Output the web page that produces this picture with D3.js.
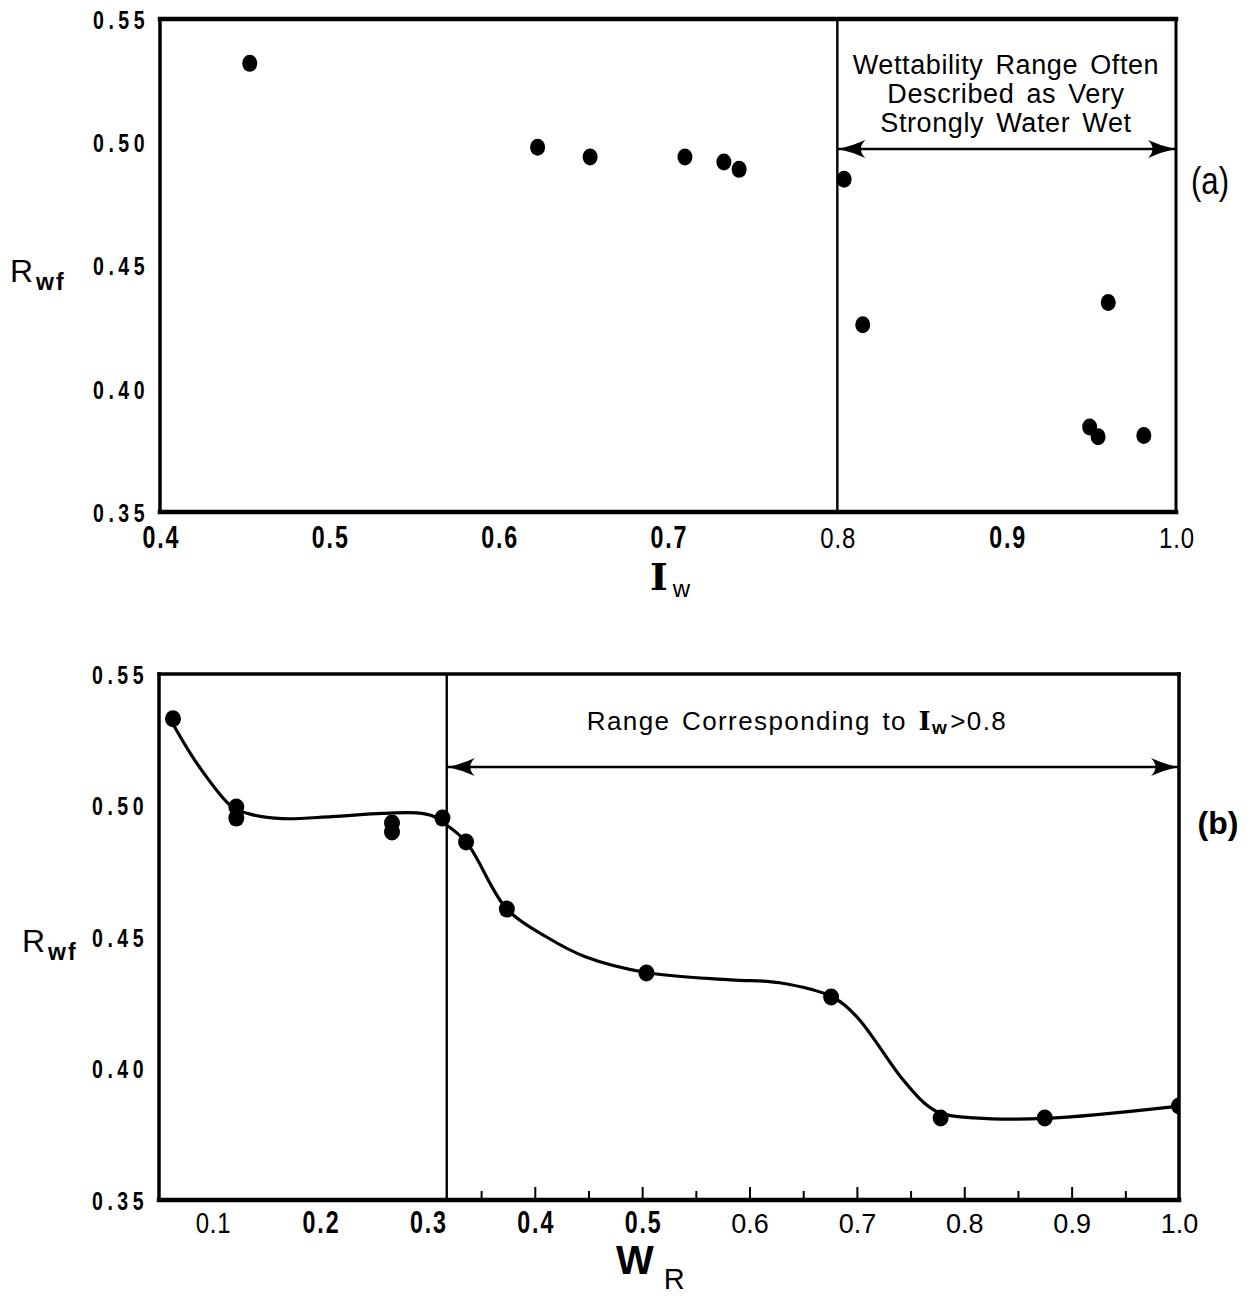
<!DOCTYPE html>
<html>
<head>
<meta charset="utf-8">
<script src="https://cdn.jsdelivr.net/npm/d3@7/dist/d3.min.js"></script>
<style>
	body { margin: 0; background: #fff; }
	svg { display: block; }
</style>
</head>
<body>
<div id="chart"></div>
<script>
// (a) wettability index Iw vs Rwf
var iwValues  = [0.453, 0.623, 0.654, 0.710, 0.733, 0.742, 0.804, 0.815, 0.960, 0.949, 0.954, 0.981];
var rwfA      = [0.532, 0.498, 0.494, 0.494, 0.492, 0.489, 0.485, 0.426, 0.435, 0.3845, 0.3805, 0.381];

// (b) WR vs Rwf
var wrValues  = [0.063, 0.122, 0.122, 0.267, 0.267, 0.314, 0.336, 0.374, 0.504, 0.676, 0.778, 0.875, 1.0];
var rwfB      = [0.533, 0.4994, 0.4952, 0.4933, 0.4899, 0.4952, 0.4861, 0.4606, 0.4363, 0.4272, 0.3812, 0.3812, 0.3857];

// hand drawn curve through (b), knots
var curveWr   = [0.063, 0.087, 0.118, 0.134, 0.165, 0.211, 0.258, 0.290, 0.305, 0.314, 0.336, 0.374, 0.411, 0.447, 0.505, 0.583, 0.628, 0.677, 0.700, 0.741, 0.763, 0.778, 0.809, 0.875, 1.0];
var curveRwf  = [0.531, 0.515, 0.4995, 0.4968, 0.4950, 0.4958, 0.4970, 0.4972, 0.4960, 0.4937, 0.4862, 0.4606, 0.4500, 0.4425, 0.4364, 0.4337, 0.4326, 0.4272, 0.4196, 0.3967, 0.3868, 0.3830, 0.3812, 0.3810, 0.3857];

var yTicks      = [0.35, 0.40, 0.45, 0.50, 0.55];
var yTickLabels = ['0.35', '0.40', '0.45', '0.50', '0.55'];
var xTicksA     = [0.4, 0.5, 0.6, 0.7, 0.8, 0.9, 1.0];
var xLabelsA    = ['0.4', '0.5', '0.6', '0.7', '0.8', '0.9', '1.0'];
var xTicksB     = [0.1, 0.2, 0.3, 0.4, 0.5, 0.6, 0.7, 0.8, 0.9, 1.0];
var xLabelsB    = ['0.1', '0.2', '0.3', '0.4', '0.5', '0.6', '0.7', '0.8', '0.9', '1.0'];
var majorTicksB = [0.4, 0.5, 0.6, 0.7, 0.8, 0.9];
var minorTicksB = [0.35, 0.45, 0.55, 0.65, 0.75, 0.85, 0.95];

var rangeStartA = 0.8;     // Iw where "very strongly water wet" begins
var rangeStartB = 0.318;   // WR corresponding to Iw = 0.8

var SANS = '"Liberation Sans", Arial, sans-serif';
var SERIF = '"DejaVu Serif", "Liberation Serif", serif';

// the scanned labels are a mix of typefaces; narrow ones are squeezed with scaleX
var labelFonts = {
	bold:  {weight: 'bold', size: 31, spacing: 2.5, squeeze: 0.75},
	thin:  {weight: 'normal', size: 30, spacing: 1, squeeze: 0.8},
	plain: {weight: 'normal', size: 27, spacing: 0, squeeze: 1}
};
var labelStyleA = {'0.8': 'thin', '1.0': 'thin'};
var labelStyleB = {'0.1': 'thin', '0.6': 'plain', '0.7': 'plain', '0.8': 'plain', '0.9': 'plain', '1.0': 'plain'};

var svg = d3.select('#chart').append('svg')
	.attr('width', 1257)
	.attr('height', 1296);

var Panel = function(svg, opts){
	this.svg = svg;
	this.box = opts.box;
	this.xDomain = opts.xDomain;
	this.yDomain = opts.yDomain || [0.35, 0.55];
	this.labelStyle = opts.labelStyle || {};
	this.g = svg.append('g');
	this.x = d3.scaleLinear().domain(this.xDomain).range([this.box.left, this.box.right]);
	this.y = d3.scaleLinear().domain(this.yDomain).range([this.box.bottom, this.box.top]);
};

Panel.prototype.drawFrame = function(widths){
	var b = this.box;
	var sides = [
		[b.left, b.top, b.right, b.top, widths[0]],
		[b.right, b.top, b.right, b.bottom, widths[1]],
		[b.left, b.bottom, b.right, b.bottom, widths[2]],
		[b.left, b.top, b.left, b.bottom, widths[3]]
	];
	this.g.append('g').selectAll('line')
		.data(sides)
		.enter().append('line')
			.attr('x1', function(d){ return d[0]; })
			.attr('y1', function(d){ return d[1]; })
			.attr('x2', function(d){ return d[2]; })
			.attr('y2', function(d){ return d[3]; })
			.attr('stroke', '#000')
			.attr('stroke-width', function(d){ return d[4]; })
			.attr('stroke-linecap', 'square');
};

Panel.prototype.drawYAxis = function(){
	var squeeze = 0.75;
	var axis = d3.axisLeft(this.y)
		.tickValues(yTicks)
		.tickFormat(function(d, i){ return yTickLabels[i]; })
		.tickSize(0);
	var ax = this.g.append('g')
		.attr('transform', 'translate(' + this.box.left + ',0)')
		.call(axis);
	ax.select('.domain').remove();
	ax.selectAll('text')
		.attr('x', -11 / squeeze)
		.attr('transform', 'scale(' + squeeze + ',1)')
		.style('font-family', SANS)
		.style('font-weight', 'bold')
		.style('font-size', '26px')
		.style('letter-spacing', '6px')
		.attr('fill', '#000')
		.attr('dy', '0.36em');
};

Panel.prototype.drawXAxis = function(ticks, labels, baseline){
	var _this = this;
	var axis = d3.axisBottom(this.x)
		.tickValues(ticks)
		.tickFormat(function(d, i){ return labels[i]; })
		.tickSize(0);
	var ax = this.g.append('g')
		.attr('transform', 'translate(0,' + this.box.bottom + ')')
		.call(axis);
	ax.select('.domain').remove();
	ax.selectAll('text')
		.attr('y', baseline)
		.attr('dy', 0)
		.attr('fill', '#000')
		.each(function(d, i){
			var f = labelFonts[_this.labelStyle[labels[i]] || 'bold'];
			d3.select(this)
				.attr('x', f.spacing / 2)
				.attr('transform', 'scale(' + f.squeeze + ',1)')
				.style('font-family', SANS)
				.style('font-weight', f.weight)
				.style('font-size', f.size + 'px')
				.style('letter-spacing', f.spacing + 'px');
		});
};

Panel.prototype.drawInnerTicks = function(values, size){
	var ax = this.g.append('g')
		.attr('transform', 'translate(0,' + this.box.bottom + ')')
		.call(d3.axisTop(this.x).tickValues(values).tickSize(size).tickFormat(''));
	ax.select('.domain').remove();
	ax.selectAll('line').attr('stroke', '#000').attr('stroke-width', 2);
};

Panel.prototype.drawDivider = function(value){
	this.g.append('line')
		.attr('x1', this.x(value)).attr('x2', this.x(value))
		.attr('y1', this.box.top).attr('y2', this.box.bottom)
		.attr('stroke', '#000')
		.attr('stroke-width', 2.4);
};

Panel.prototype.drawRangeArrow = function(from, to, yPix){
	var x0 = this.x(from), x1 = this.x(to);
	var g = this.g.append('g');
	g.append('line')
		.attr('x1', x0).attr('x2', x1)
		.attr('y1', yPix).attr('y2', yPix)
		.attr('stroke', '#000').attr('stroke-width', 2.4);
	var head = function(x, dir){
		return 'M' + x + ',' + yPix +
			'Q' + (x + dir * 14) + ',' + (yPix - 3) + ' ' + (x + dir * 27) + ',' + (yPix - 9) +
			'Q' + (x + dir * 18) + ',' + yPix + ' ' + (x + dir * 27) + ',' + (yPix + 9) +
			'Q' + (x + dir * 14) + ',' + (yPix + 3) + ' ' + x + ',' + yPix + 'Z';
	};
	g.append('path').attr('d', head(x0 + 1, 1)).attr('fill', '#000');
	g.append('path').attr('d', head(x1 - 1, -1)).attr('fill', '#000');
};

Panel.prototype.drawPoints = function(xs, ys, rx, ry, clip){
	var _this = this;
	var pts = xs.map(function(v, i){ return {x: v, y: ys[i]}; });
	var g = this.g.append('g');
	if(clip){
		var id = 'clip-' + Math.round(this.box.top);
		this.svg.append('clipPath').attr('id', id)
			.append('rect')
			.attr('x', this.box.left - 20).attr('y', this.box.top)
			.attr('width', this.box.right - this.box.left + 20)
			.attr('height', this.box.bottom - this.box.top);
		g.attr('clip-path', 'url(#' + id + ')');
	}
	g.selectAll('ellipse')
		.data(pts)
		.enter().append('ellipse')
			.attr('cx', function(d){ return _this.x(d.x); })
			.attr('cy', function(d){ return _this.y(d.y); })
			.attr('rx', rx)
			.attr('ry', ry)
			.attr('fill', '#000');
};

Panel.prototype.drawCurve = function(xs, ys){
	var _this = this;
	var pts = xs.map(function(v, i){ return [v, ys[i]]; });
	var line = d3.line()
		.x(function(d){ return _this.x(d[0]); })
		.y(function(d){ return _this.y(d[1]); })
		.curve(d3.curveCatmullRom.alpha(0.5));
	this.g.append('path')
		.datum(pts)
		.attr('d', line)
		.attr('fill', 'none')
		.attr('stroke', '#000')
		.attr('stroke-width', 3.2)
		.attr('stroke-linejoin', 'round');
};

// y label "Rwf" with subscript
function rwfLabel(x, baseline){
	var t = svg.append('text')
		.attr('x', x).attr('y', baseline)
		.attr('fill', '#000');
	t.append('tspan')
		.style('font-family', SANS).style('font-size', '32px')
		.text('R');
	t.append('tspan')
		.attr('dy', 8).attr('dx', 3)
		.style('font-family', SANS).style('font-weight', 'bold').style('font-size', '23px')
		.style('letter-spacing', '2px')
		.text('wf');
}

// ---------- panel (a) ----------
var panelA = new Panel(svg, {
	box: {left: 160, right: 1176, top: 19, bottom: 512},
	xDomain: [0.4, 1.0],
	labelStyle: labelStyleA
});
panelA.drawDivider(rangeStartA);
panelA.drawFrame([4.5, 3, 4.5, 3.5]);
panelA.drawYAxis();
panelA.drawXAxis(xTicksA, xLabelsA, 36);
panelA.drawRangeArrow(rangeStartA, 1.0, 149);
panelA.drawPoints(iwValues, rwfA, 7.5, 8.5, false);

var noteA = svg.append('text')
	.attr('text-anchor', 'middle')
	.attr('fill', '#000')
	.style('font-family', SANS)
	.style('font-size', '27px')
	.style('letter-spacing', '0.6px')
	.style('word-spacing', '4px');
['Wettability Range Often', 'Described as Very', 'Strongly Water Wet'].forEach(function(s, i){
	noteA.append('tspan')
		.attr('x', 1006)
		.attr('y', 74 + i * 29)
		.text(s);
});

rwfLabel(10, 282);

var iwLabel = svg.append('text').attr('x', 650).attr('y', 590).attr('fill', '#000');
iwLabel.append('tspan')
	.style('font-family', SERIF).style('font-weight', 'bold').style('font-size', '38px')
	.text('I');
iwLabel.append('tspan')
	.attr('dx', 5).attr('dy', 7)
	.style('font-family', SANS).style('font-size', '24px')
	.text('w');

svg.append('text')
	.attr('x', 1210).attr('y', 194)
	.attr('text-anchor', 'middle')
	.attr('fill', '#000')
	.style('font-family', SANS)
	.style('font-size', '38px')
	.attr('transform', 'translate(1210,0) scale(0.82,1) translate(-1210,0)')
	.text('(a)');

// ---------- panel (b) ----------
var panelB = new Panel(svg, {
	box: {left: 159, right: 1179, top: 674, bottom: 1200},
	xDomain: [0.05, 1.0],
	labelStyle: labelStyleB
});
panelB.drawInnerTicks(majorTicksB, 13);
panelB.drawInnerTicks(minorTicksB, 9);
panelB.drawDivider(rangeStartB);
panelB.drawFrame([3.5, 3.5, 4.5, 3.5]);
panelB.drawYAxis();
panelB.drawXAxis(xTicksB, xLabelsB, 33);
panelB.drawRangeArrow(rangeStartB, 1.0, 767);
panelB.drawCurve(curveWr, curveRwf);
panelB.drawPoints(wrValues, rwfB, 8, 8.5, true);

var noteB = svg.append('text')
	.attr('x', 797).attr('y', 730)
	.attr('text-anchor', 'middle')
	.attr('fill', '#000')
	.style('font-family', SANS)
	.style('font-size', '26px')
	.style('letter-spacing', '1.4px')
	.style('word-spacing', '3px');
noteB.append('tspan').text('Range Corresponding to ');
noteB.append('tspan')
	.style('font-family', SERIF).style('font-weight', 'bold').style('font-size', '26px')
	.text('I');
noteB.append('tspan')
	.attr('dy', 4)
	.style('font-weight', 'bold').style('font-size', '19px')
	.text('w');
noteB.append('tspan')
	.attr('dy', -4).attr('dx', 2)
	.text('>0.8');

rwfLabel(22, 952);

var wrLabel = svg.append('text').attr('x', 616).attr('y', 1274).attr('fill', '#000');
wrLabel.append('tspan')
	.style('font-family', SANS).style('font-weight', 'bold').style('font-size', '40px')
	.text('W');
wrLabel.append('tspan')
	.attr('dx', 10).attr('dy', 15)
	.style('font-family', SANS).style('font-size', '29px')
	.text('R');

svg.append('text')
	.attr('x', 1218).attr('y', 834)
	.attr('text-anchor', 'middle')
	.attr('fill', '#000')
	.style('font-family', SANS)
	.style('font-weight', 'bold')
	.style('font-size', '32px')
	.text('(b)');
</script>
</body>
</html>
